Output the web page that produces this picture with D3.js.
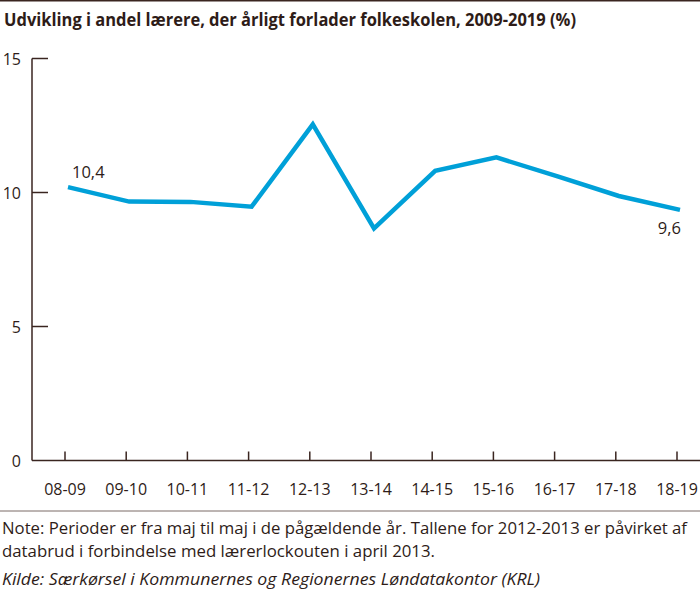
<!DOCTYPE html>
<html><head><meta charset="utf-8">
<script src="https://cdn.jsdelivr.net/npm/d3@7"></script>
<style>
html,body{margin:0;padding:0;background:#fff;}
svg{display:block;}
text{font-family:"Open Sans",sans-serif;fill:#2e1c18;}
</style></head>
<body>
<script>
// Data
const periods = ["08-09","09-10","10-11","11-12","12-13","13-14","14-15","15-16","16-17","17-18","18-19"];
const values = [10.2, 9.66, 9.65, 9.47, 12.54, 8.66, 10.81, 11.31, 10.6, 9.87, 9.35];
const yTicks = [0, 5, 10, 15];
const pointLabels = [{period:"08-09", text:"10,4", pos:"above"}, {period:"18-19", text:"9,6", pos:"below"}];
const title = "Udvikling i andel lærere, der årligt forlader folkeskolen, 2009-2019 (%)";
const noteLines = ["Note: Perioder er fra maj til maj i de pågældende år. Tallene for 2012-2013 er påvirket af",
                   "databrud i forbindelse med lærerlockouten i april 2013."];
const source = "Kilde: Særkørsel i Kommunernes og Regionernes Løndatakontor (KRL)";

const W = 700, H = 590;
const svg = d3.select("body").append("svg").attr("width", W).attr("height", H);
const dark = "#3a2520";

// top rule
svg.append("line").attr("x1",0).attr("x2",W).attr("y1",0.75).attr("y2",0.75)
  .attr("stroke",dark).attr("stroke-width",1.5);

// title
svg.append("text").attr("x",4).attr("y",26)
  .style("font-size","17px").style("font-weight","700").text(title)
  .attr("textLength", 572).attr("lengthAdjust","spacingAndGlyphs");

const x = d3.scalePoint().domain(periods).range([65, 677]);
const y = d3.scaleLinear().domain([0,15]).range([460.5, 58.5]);
const axisX = 32;
const lineShift = 3; // line vertices sit slightly right of the ticks in the original

// y axis
svg.append("line").attr("x1",axisX).attr("x2",axisX).attr("y1",y(15)).attr("y2",y(0))
  .attr("stroke",dark).attr("stroke-width",1.5);
const yg = svg.append("g");
yg.selectAll("line").data(yTicks.filter(d=>d>0)).join("line")
  .attr("x1",axisX).attr("x2",axisX+16).attr("y1",d=>y(d)).attr("y2",d=>y(d))
  .attr("stroke",dark).attr("stroke-width",1.5);
yg.selectAll("text").data(yTicks).join("text")
  .attr("x",21).attr("y",d=>y(d)+6).attr("text-anchor","end")
  .style("font-size","16px").text(d=>d);

// x axis
svg.append("line").attr("x1",axisX).attr("x2",W).attr("y1",y(0)).attr("y2",y(0))
  .attr("stroke",dark).attr("stroke-width",1.5);
const xg = svg.append("g");
xg.selectAll("line").data(periods).join("line")
  .attr("x1",d=>x(d)).attr("x2",d=>x(d)).attr("y1",y(0)).attr("y2",y(0)-9)
  .attr("stroke",dark).attr("stroke-width",1.5);
xg.selectAll("text").data(periods).join("text")
  .attr("x",d=>x(d)).attr("y",495).attr("text-anchor","middle")
  .style("font-size","16px").text(d=>d);

// line
const line = d3.line().x((d,i)=>x(periods[i])+lineShift).y(d=>y(d));
svg.append("path").datum(values).attr("d",line)
  .attr("fill","none").attr("stroke","#00a0d8").attr("stroke-width",4.5)
  .attr("stroke-linejoin","miter");

// point labels
pointLabels.forEach(p=>{
  const i = periods.indexOf(p.period);
  const px = x(p.period)+lineShift, py = y(values[i]);
  svg.append("text")
    .attr("x", p.pos==="above" ? px+4 : px+1)
    .attr("y", p.pos==="above" ? py-9 : py+24)
    .attr("text-anchor", p.pos==="above" ? "start" : "end")
    .style("font-size","16.5px").text(p.text);
});

// separator
svg.append("line").attr("x1",0).attr("x2",W).attr("y1",511).attr("y2",511)
  .attr("stroke","#7a6a66").attr("stroke-width",1);

// notes
const noteWidths = [685, 433];
noteLines.forEach((l,i)=>{
  svg.append("text").attr("x",2).attr("y",534+i*23).style("font-size","16.5px").text(l)
    .attr("textLength", noteWidths[i]).attr("lengthAdjust","spacingAndGlyphs");
});
svg.append("text").attr("x",2).attr("y",585).style("font-size","16.5px")
  .style("font-style","italic").text(source)
  .attr("textLength", 538).attr("lengthAdjust","spacingAndGlyphs");
</script>
</body></html>
